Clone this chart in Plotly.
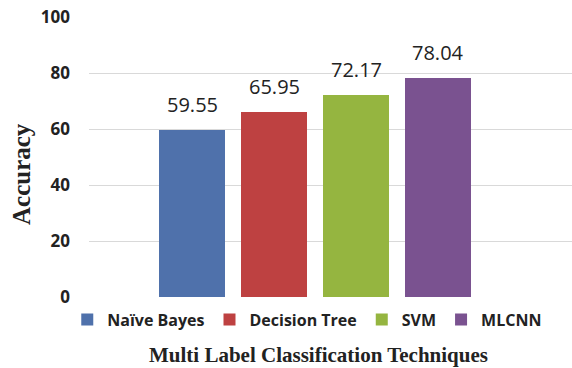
import plotly.graph_objects as go

# Accuracy of each multi-label classification technique
techniques = ["Naïve Bayes", "Decision Tree", "SVM", "MLCNN"]
accuracy = [59.55, 65.95, 72.17, 78.04]
bar_colors = ["#4f71ab", "#be4141", "#95b540", "#7a5290"]
y_ticks = [0, 20, 40, 60, 80, 100]

fig = go.Figure()
value_labels = []
for i, (name, val, col) in enumerate(zip(techniques, accuracy, bar_colors)):
    fig.add_trace(go.Bar(
        x=[i], y=[val], name=name, width=0.8,
        marker=dict(color=col, line=dict(width=0)),
    ))
    value_labels.append(dict(
        text=f"{val:.2f}", x=i, y=val, xref="x", yref="y",
        showarrow=False, xanchor="center", yanchor="bottom", yshift=10,
        font=dict(family="Open Sans", size=20, color="#222222"),
    ))

fig.update_layout(
    width=572, height=368,
    margin=dict(l=89, r=0, t=17, b=71),
    paper_bgcolor="white", plot_bgcolor="white",
    barmode="overlay",
    bargap=0,
    showlegend=True,
    legend=dict(
        orientation="h", x=-0.045, xanchor="left", y=-0.02, yanchor="top",
        font=dict(family="Open Sans", size=16, color="#222222", weight="bold"),
        itemwidth=30, tracegroupgap=0,
    ),
    xaxis=dict(
        range=[-1.256, 4.634], showticklabels=False, showgrid=False,
        zeroline=False, showline=False, ticks="",
    ),
    yaxis=dict(
        range=[0, 100], tickvals=y_ticks, showgrid=True, gridcolor="#d9d9d9",
        gridwidth=1, zeroline=False, showline=False, ticks="",
        tickfont=dict(family="Open Sans", size=17, color="#222222", weight="bold"),
        ticklabelstandoff=18,
    ),
    font=dict(family="Open Sans"),
    annotations=value_labels + [
        dict(text="<b>Accuracy</b>", xref="paper", yref="paper",
             x=(21 - 89) / 483, y=(297 - 174) / 280, textangle=-90,
             showarrow=False, xanchor="center", yanchor="middle",
             font=dict(family="Liberation Serif", size=25, color="#222222")),
        dict(text="<b>Multi Label Classification Techniques</b>", xref="paper", yref="paper",
             x=(318 - 89) / 483, y=-(355 - 297) / 280,
             showarrow=False, xanchor="center", yanchor="middle",
             font=dict(family="Liberation Serif", size=21, color="#222222")),
    ],
)

fig.write_html("out.html")
